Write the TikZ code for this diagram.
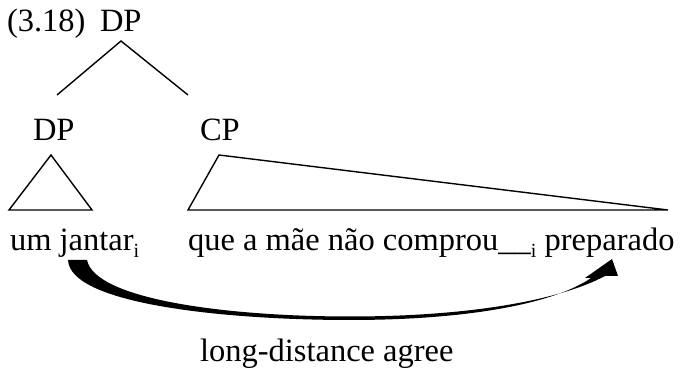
\documentclass[tikz,border=0pt]{standalone}
\usepackage{fontspec}
\setmainfont{Liberation Serif}
\begin{document}
\begin{tikzpicture}[x=1pt,y=-1pt,
  lbl/.style={anchor=base west,inner sep=0pt,outer sep=0pt,font=\fontsize{32.5}{38}\selectfont},
  branch/.style={line width=1.4pt},
  tri/.style={line width=1.4pt,line join=miter}]
\useasboundingbox (0,0) rectangle (683,371);
\newcommand{\subi}{\raisebox{-0.45ex}{\fontsize{20}{20}\selectfont i}}
% labels
\node[lbl] (ex) at (7,32) {(3.18)};
\node[lbl] (root) at (100,32) {DP};
\node[lbl] (dp) at (33,141) {DP};
\node[lbl] (cp) at (200,141) {CP};
\node[lbl] (w1) at (10,251) {um jantar\subi};
\node[lbl] (w2) at (188,251) {que a mãe não comprou\_\_\subi{} preparado};
\node[lbl] (ag) at (200,362) {long-distance agree};
% tree branches
\coordinate (apex) at (121,41);
\coordinate (bl) at (57,95);
\coordinate (br) at (188,95);
\draw[branch] (bl) -- (apex) -- (br);
% triangles
\draw[tri] (9,210) -- (51,155) -- (92,210) -- cycle;
\draw[tri] (188,210) -- (219,155) -- (668,210) -- cycle;
% curved arrow
\fill (68,260) .. controls (70,305) and (230,320) .. (350,320)
  .. controls (470,320) and (555,303) .. (591,278)
  -- (585,278) -- (612,259) -- (618,276) -- (605,276)
  .. controls (560,300) and (470,316.5) .. (350,316.5)
  .. controls (230,316.5) and (95,300) .. (87,260) -- cycle;
\end{tikzpicture}
\end{document}
